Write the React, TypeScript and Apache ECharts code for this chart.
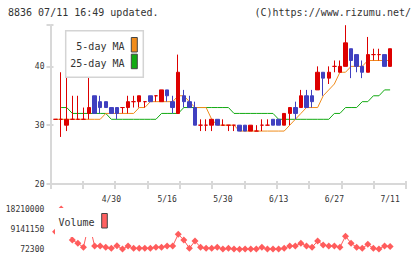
import React, { useEffect, useRef } from "react";
import * as echarts from "echarts";

const dates = ["4/15","4/16","4/17","4/18","4/19","4/22","4/23","4/24","4/25","4/26","4/30","5/1","5/2","5/7","5/8","5/9","5/10","5/13","5/14","5/15","5/16","5/17","5/20","5/21","5/22","5/23","5/24","5/27","5/28","5/29","5/30","5/31","6/3","6/4","6/5","6/6","6/7","6/10","6/11","6/12","6/13","6/14","6/17","6/18","6/19","6/20","6/21","6/24","6/25","6/26","6/27","6/28","7/1","7/2","7/3","7/4","7/5","7/8","7/9","7/10","7/11"];

const opens = [31,31,30,31,31,31,32,35,34,34, 33,33,33,33,34,34,34,35,35,34, 36,34,32,35,34,33,30,30,30,31, 30,30,30,30,30,29,29,30,30,31, 31,30,32,33,33,35,35,36,39,38, 40,39,40,43,42,40,39,42,42,42, 40];
const closes = [31,31,31,31,31,31,33,32,33,33, 32,32,33,34,34,35,34,34,35,36, 35,33,39,34,33,30,30,30,31,30, 30,30,30,29,29,30,29,30,30,30, 30,32,33,32,35,33,34,39,38,39, 40,40,44,41,40,39,42,42,42,40, 43];
const lows = [31,28,29,31,31,31,31,32,32,33, 32,31,32,32,33,33,33,34,34,34, 34,32,32,33,33,30,29,29,29,30, 30,29,29,29,29,29,29,29,30,30, 30,30,30,31,33,33,33,36,35,37, 39,39,40,38,39,38,39,41,41,40, 40];
const highs = [31,39,40,35,35,33,42,35,35,34, 33,33,33,35,35,35,34,35,35,36, 36,35,42,36,35,34,31,31,31,31, 31,30,30,30,30,30,30,31,31,31, 31,32,33,34,36,36,36,40,39,40, 41,41,47,43,42,41,45,43,43,42, 43];

const ma5 = [31,31,31,31,31,31,31,31,31,32, 32,32,32,32,32,33,33,34,34,34, 34,34,35,35,34,33,33,33,31,30, 30,30,30,29,29,29,29,29,29,29, 29,29,30,31,32,33,33,33,35,36, 37,39,39,40,40,40,41,41,41,41, 41];
const ma25 = [null,33,33,32,32,32,32,32,32,32, 31,31,31,31,31,31,31,31,31,32, 32,32,32,33,33,33,33,33,33,33, 33,33,32,32,32,32,32,32,32,32, 31,31,31,31,31,31,31,31,31,31, 32,32,33,33,33,34,34,35,35,36, 36];

const volumes = [8000000,18210000,10000000,4260000,2770000,970000,12000000,1560000,1560000,970000, 500000,1700000,200000,1560000,500000,500000,500000,500000,970000,970000, 1560000,1560000,6800000,4260000,500000,3800000,970000,500000,500000,970000, 200000,500000,200000,72300,200000,200000,200000,970000,200000,200000, 200000,500000,1560000,1560000,2770000,1560000,970000,3800000,2000000,1560000, 1560000,970000,6000000,2770000,970000,500000,2300000,500000,200000,1560000, 1300000];

const priceTicks = [20, 30, 40];
const volumeTicks = [72300, 9141150, 18210000];

const FONT = "DejaVu Sans Mono";
const RED = "#dd0000";
const BLUE = "#4040c0";
const ORANGE = "#f08c1c";
const GREEN = "#12aa12";
const VOL = "#ff5c5c";
const AXIS = "#d8d8d8";
const TEXT = "#333333";

export default function App() {
  const ref = useRef<HTMLDivElement>(null);
  useEffect(() => {
    const chart = echarts.init(ref.current as HTMLDivElement, null, { renderer: "svg", width: 420, height: 259 });
    const candleData = dates.map((_, i) => {
      const o = opens[i];
      const c = closes[i];
      const item: any = { value: [o, c, lows[i], highs[i]] };
      if (o === c) item.itemStyle = { color: RED, color0: RED, borderColor: RED, borderColor0: RED };
      return item;
    });
    const pMin = priceTicks[0];
    const pMax = 47;
    const pInt = priceTicks[1] - priceTicks[0];
    const vMin = volumeTicks[0];
    const vMax = volumeTicks[2];
    const vInt = volumeTicks[1] - volumeTicks[0];
    const gMain = { top: 25.2, height: 158.8 };
    const option: any = {
      animation: false,
      backgroundColor: "#ffffff",
      grid: [
        { left: 52.8, width: 340.1, ...gMain },
        { left: 50.5, width: 355.5, ...gMain },
        { left: 50.5, width: 355.5, ...gMain },
        { left: 52.8, width: 340.1, top: 209, height: 40.3 },
      ],
      xAxis: [
        {
          type: "category", gridIndex: 0, data: dates, boundaryGap: true,
          axisLine: { show: false }, axisTick: { show: false }, splitLine: { show: false },
          axisLabel: { interval: (i: number) => i > 0 && i % 10 === 0, fontSize: 8, fontFamily: FONT, color: TEXT, margin: 11 },
        },
        {
          type: "value", gridIndex: 1, min: 0, max: 11, interval: 1, position: "bottom",
          axisLine: { show: true, lineStyle: { color: AXIS, width: 2 } },
          axisTick: { show: true, length: 5, lineStyle: { color: AXIS, width: 2 } },
          axisLabel: { show: false }, splitLine: { show: false },
        },
        {
          type: "value", gridIndex: 2, min: 0, max: 11, interval: 1, position: "bottom",
          axisLine: { show: false },
          axisTick: { show: true, inside: true, length: 3, lineStyle: { color: AXIS, width: 2 } },
          axisLabel: { show: false }, splitLine: { show: false },
        },
        {
          type: "category", gridIndex: 3, data: dates, boundaryGap: true, show: false,
        },
      ],
      yAxis: [
        { type: "value", gridIndex: 0, min: pMin, max: pMax, show: false, splitLine: { show: false } },
        {
          type: "value", gridIndex: 1, min: pMin, max: pMax, interval: pInt,
          axisLine: { show: true, lineStyle: { color: AXIS, width: 2 } },
          axisTick: { show: true, length: 4, lineStyle: { color: AXIS, width: 2 } },
          axisLabel: { fontSize: 8, fontFamily: FONT, color: TEXT, margin: 6, formatter: (v: number) => (priceTicks.includes(v) ? String(v) : "") },
          splitLine: { show: false },
        },
        {
          type: "value", gridIndex: 2, min: pMin, max: pMax, interval: pInt,
          axisLine: { show: false },
          axisTick: { show: true, inside: true, length: 3, lineStyle: { color: AXIS, width: 2 } },
          axisLabel: { show: false }, splitLine: { show: false },
        },
        {
          type: "value", gridIndex: 3, min: vMin, max: vMax, interval: vInt,
          axisLine: { show: false }, axisTick: { show: false }, splitLine: { show: false },
          axisLabel: { fontSize: 8, fontFamily: FONT, color: TEXT, margin: 8.5, formatter: (v: number) => String(Math.round(v)) },
        },
      ],
      series: [
        {
          type: "line", name: "25-day MA", xAxisIndex: 0, yAxisIndex: 0, data: ma25,
          symbol: "none", lineStyle: { color: GREEN, width: 1 }, itemStyle: { color: GREEN }, z: 2,
        },
        {
          type: "line", name: "5-day MA", xAxisIndex: 0, yAxisIndex: 0, data: ma5,
          symbol: "none", lineStyle: { color: ORANGE, width: 1 }, itemStyle: { color: ORANGE }, z: 2,
        },
        {
          type: "candlestick", xAxisIndex: 0, yAxisIndex: 0, data: candleData, barWidth: 4, z: 3,
          itemStyle: { color: RED, color0: BLUE, borderColor: RED, borderColor0: BLUE, borderWidth: 1 },
        },
        {
          type: "line", name: "Volume", xAxisIndex: 3, yAxisIndex: 3, data: volumes,
          symbol: "diamond", symbolSize: 7, showAllSymbol: true,
          lineStyle: { color: VOL, width: 1 }, itemStyle: { color: VOL },
        },
      ],
      graphic: [
        { type: "text", left: 8, top: 7, z: 100, style: { text: "8836 07/11 16:49 updated.", font: `10px ${FONT}`, fill: TEXT } },
        { type: "text", right: 9, top: 7, z: 100, style: { text: "(C)https://www.rizumu.net/", font: `10px ${FONT}`, fill: TEXT } },
        { type: "rect", shape: { x: 65.7, y: 30.7, width: 77.6, height: 46.6 }, z: 100, style: { fill: "#ffffff", stroke: "#d4d4d4", lineWidth: 1.5 } },
        { type: "text", x: 124.5, y: 46.7, z: 101, style: { text: "5-day MA", font: `10px ${FONT}`, fill: TEXT, align: "right", verticalAlign: "middle" } },
        { type: "text", x: 124.5, y: 63.3, z: 101, style: { text: "25-day MA", font: `10px ${FONT}`, fill: TEXT, align: "right", verticalAlign: "middle" } },
        { type: "rect", shape: { x: 131.3, y: 37.5, width: 6, height: 14.5 }, z: 101, style: { fill: ORANGE, stroke: "#444", lineWidth: 1 } },
        { type: "rect", shape: { x: 131.3, y: 54.2, width: 6, height: 14.5 }, z: 101, style: { fill: GREEN, stroke: "#444", lineWidth: 1 } },
        { type: "rect", shape: { x: 55, y: 208, width: 56, height: 29 }, z: 100, style: { fill: "#ffffff" } },
        { type: "text", x: 94.5, y: 222, z: 101, style: { text: "Volume", font: `10px ${FONT}`, fill: TEXT, align: "right", verticalAlign: "middle" } },
        { type: "rect", shape: { x: 101.7, y: 213.5, width: 5.6, height: 14.5 }, z: 101, style: { fill: "#ff6060", stroke: "#444", lineWidth: 1 } },
      ],
    };
    chart.setOption(option);
    return () => chart.dispose();
  }, []);
  return <div ref={ref} style={{ position: "fixed", left: 0, top: 0, width: 420, height: 259, background: "#fff" }} />;
}
